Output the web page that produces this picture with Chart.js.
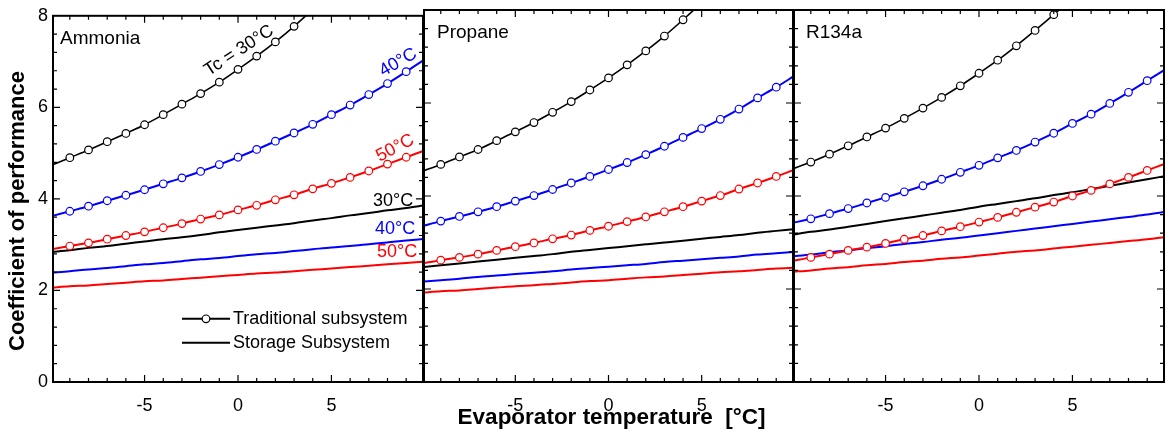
<!DOCTYPE html>
<html>
<head>
<meta charset="utf-8">
<script src="https://cdn.jsdelivr.net/npm/chart.js@4.4.1/dist/chart.umd.min.js"></script>
<style>
  body { margin: 0; background: #fff; width: 1166px; height: 433px; overflow: hidden; position: relative; }
  canvas { position: absolute; top: 0; }
</style>
</head>
<body>
<canvas id="c1" width="433" height="433" style="left:0px"></canvas>
<canvas id="c2" width="389" height="433" style="left:414px"></canvas>
<canvas id="c3" width="382" height="433" style="left:784px"></canvas>
<script>
// evaporator temperature, °C
const temps = [-10, -9, -8, -7, -6, -5, -4, -3, -2, -1, 0, 1, 2, 3, 4, 5, 6, 7, 8, 9, 10];
const xTickValues = [-5, 0, 5];
const yTickValues = [0, 2, 4, 6, 8];
const condLabels = ['30°C', '40°C', '50°C'];

// Ammonia - traditional (markers) and storage subsystem, Tc = 30 / 40 / 50
const ammoniaTrad30 = [4.73, 4.90, 5.07, 5.25, 5.43, 5.62, 5.84, 6.07, 6.30, 6.55, 6.83, 7.12, 7.43, 7.77, 8.14, 8.52, null, null, null, null, null];
const ammoniaTrad40 = [3.62, 3.73, 3.84, 3.96, 4.08, 4.20, 4.33, 4.46, 4.60, 4.75, 4.91, 5.08, 5.26, 5.44, 5.63, 5.84, 6.05, 6.28, 6.52, 6.78, 7.05];
const ammoniaTrad50 = [2.90, 2.97, 3.04, 3.12, 3.20, 3.28, 3.37, 3.46, 3.56, 3.65, 3.76, 3.86, 3.98, 4.09, 4.22, 4.34, 4.47, 4.61, 4.76, 4.91, 5.06];
const ammoniaStor30 = [2.84, 2.88, 2.93, 2.97, 3.02, 3.07, 3.12, 3.16, 3.21, 3.27, 3.32, 3.37, 3.42, 3.47, 3.53, 3.58, 3.64, 3.69, 3.75, 3.80, 3.86];
const ammoniaStor40 = [2.39, 2.42, 2.46, 2.49, 2.53, 2.57, 2.60, 2.64, 2.68, 2.71, 2.75, 2.79, 2.82, 2.86, 2.90, 2.94, 2.97, 3.01, 3.05, 3.09, 3.13];
const ammoniaStor50 = [2.06, 2.09, 2.11, 2.14, 2.17, 2.20, 2.22, 2.25, 2.28, 2.31, 2.34, 2.37, 2.39, 2.42, 2.45, 2.48, 2.51, 2.54, 2.57, 2.60, 2.63];

// Propane
const propaneTrad30 = [4.53, 4.68, 4.84, 5.00, 5.19, 5.38, 5.58, 5.80, 6.03, 6.28, 6.54, 6.82, 7.12, 7.44, 7.79, 8.16, 8.55, null, null, null, null];
const propaneTrad40 = [3.35, 3.46, 3.56, 3.66, 3.77, 3.89, 4.01, 4.14, 4.28, 4.42, 4.57, 4.72, 4.89, 5.07, 5.26, 5.45, 5.65, 5.87, 6.11, 6.34, 6.59];
const propaneTrad50 = [2.55, 2.62, 2.68, 2.75, 2.83, 2.91, 2.99, 3.08, 3.16, 3.26, 3.35, 3.45, 3.55, 3.66, 3.77, 3.89, 4.01, 4.15, 4.28, 4.42, 4.57];
const propaneStor30 = [2.47, 2.51, 2.55, 2.59, 2.63, 2.67, 2.71, 2.75, 2.80, 2.84, 2.88, 2.92, 2.96, 3.00, 3.04, 3.08, 3.12, 3.16, 3.21, 3.25, 3.29];
const propaneStor40 = [2.16, 2.19, 2.22, 2.26, 2.29, 2.32, 2.35, 2.38, 2.42, 2.45, 2.48, 2.51, 2.54, 2.58, 2.61, 2.64, 2.67, 2.70, 2.74, 2.77, 2.80];
const propaneStor50 = [1.92, 1.95, 1.97, 2.00, 2.03, 2.06, 2.08, 2.11, 2.14, 2.17, 2.19, 2.22, 2.25, 2.27, 2.30, 2.33, 2.36, 2.38, 2.41, 2.44, 2.46];

// R134a
const r134aTrad30 = [4.58, 4.73, 4.90, 5.08, 5.27, 5.46, 5.67, 5.89, 6.12, 6.37, 6.64, 6.92, 7.23, 7.56, 7.90, 8.26, 8.64, null, null, null, null];
const r134aTrad40 = [3.42, 3.51, 3.62, 3.73, 3.85, 3.97, 4.09, 4.22, 4.36, 4.51, 4.66, 4.82, 4.98, 5.16, 5.35, 5.56, 5.76, 5.99, 6.23, 6.48, 6.73];
const r134aTrad50 = [2.60, 2.68, 2.75, 2.83, 2.90, 2.98, 3.07, 3.15, 3.25, 3.34, 3.44, 3.54, 3.65, 3.76, 3.87, 4.00, 4.12, 4.26, 4.40, 4.55, 4.70];
const r134aStor30 = [3.17, 3.23, 3.28, 3.34, 3.40, 3.46, 3.52, 3.58, 3.64, 3.70, 3.77, 3.83, 3.89, 3.95, 4.02, 4.08, 4.15, 4.22, 4.29, 4.36, 4.43];
const r134aStor40 = [2.70, 2.74, 2.79, 2.83, 2.88, 2.92, 2.97, 3.01, 3.06, 3.10, 3.15, 3.20, 3.25, 3.30, 3.35, 3.40, 3.45, 3.50, 3.55, 3.60, 3.66];
const r134aStor50 = [2.37, 2.40, 2.44, 2.47, 2.51, 2.54, 2.58, 2.61, 2.65, 2.68, 2.72, 2.76, 2.80, 2.83, 2.87, 2.91, 2.95, 2.99, 3.03, 3.07, 3.12];

const colors = ['#000000', '#0000ff', '#ff0000'];
const FONT = '"Liberation Sans", Arial, Helvetica, sans-serif';
Chart.defaults.font.family = FONT;
Chart.defaults.color = '#000';

function toPoints(vals) {
  return vals.map((v, k) => ({ x: temps[k], y: v }));
}

function buildDatasets(trad, stor) {
  const sets = [];
  trad.forEach((vals, i) => sets.push({
    data: toPoints(vals),
    borderColor: colors[i],
    borderWidth: i === 0 ? 1.6 : 2,
    pointRadius: vals.map((v, k) => (v === null || v > 8 || Math.abs(temps[k]) > 9) ? 0 : 3.8),
    pointBackgroundColor: '#fff',
    pointBorderColor: colors[i],
    pointBorderWidth: 1.2,
    cubicInterpolationMode: 'monotone'
  }));
  stor.forEach((vals, i) => sets.push({
    data: toPoints(vals),
    borderColor: colors[i],
    borderWidth: 2,
    pointRadius: 0,
    cubicInterpolationMode: 'monotone'
  }));
  return sets;
}

// frame, inward ticks on all sides, and the panel texts
const decor = {
  id: 'decor',
  afterDatasetsDraw(chart, args, o) {
    const { ctx, chartArea: a, scales: { x, y } } = chart;
    ctx.save();
    ctx.strokeStyle = '#000';
    ctx.lineWidth = 1.2;
    ctx.beginPath();
    for (let v = -9; v <= 9; v++) {
      const px = x.getPixelForValue(v);
      const len = v % 5 === 0 ? 7 : 4;
      ctx.moveTo(px, a.bottom); ctx.lineTo(px, a.bottom - len);
      ctx.moveTo(px, a.top); ctx.lineTo(px, a.top + len);
    }
    for (let i = 1; i < 20; i++) {
      const py = y.getPixelForValue(i * 0.4);
      const len = i % 5 === 0 ? 7 : 4;
      ctx.moveTo(a.left, py); ctx.lineTo(a.left + len, py);
      ctx.moveTo(a.right, py); ctx.lineTo(a.right - len, py);
    }
    ctx.stroke();
    ctx.lineWidth = 2;
    ctx.strokeRect(a.left, a.top, a.width, a.height);

    ctx.fillStyle = '#000';
    ctx.font = '19px ' + FONT;
    ctx.textBaseline = 'alphabetic';
    ctx.fillText(o.label, a.left + o.labelDx, a.top + 28);

    (o.notes || []).forEach(n => {
      ctx.save();
      ctx.translate(x.getPixelForValue(n.x), y.getPixelForValue(n.y));
      ctx.rotate(n.rot * Math.PI / 180);
      ctx.fillStyle = n.color;
      ctx.font = '18px ' + FONT;
      ctx.textAlign = 'center';
      ctx.textBaseline = 'middle';
      ctx.fillText(n.text, 0, 0);
      ctx.restore();
    });

    if (o.legend) {
      const lx = a.left + 129, ly1 = a.top + 303, ly2 = a.top + 327;
      ctx.lineWidth = 2;
      ctx.beginPath();
      ctx.moveTo(lx, ly1); ctx.lineTo(lx + 48, ly1);
      ctx.moveTo(lx, ly2); ctx.lineTo(lx + 48, ly2);
      ctx.stroke();
      ctx.beginPath();
      ctx.arc(lx + 24, ly1, 3.8, 0, Math.PI * 2);
      ctx.fillStyle = '#fff';
      ctx.fill();
      ctx.lineWidth = 1.2;
      ctx.stroke();
      ctx.fillStyle = '#000';
      ctx.font = '18px ' + FONT;
      ctx.textBaseline = 'middle';
      ctx.fillText('Traditional subsystem', lx + 51, ly1);
      ctx.fillText('Storage Subsystem', lx + 51, ly2);
    }
    if (o.yTitle) {
      ctx.save();
      ctx.translate(18, 211);
      ctx.rotate(-Math.PI / 2);
      ctx.font = 'bold 22px ' + FONT;
      ctx.textAlign = 'center';
      ctx.textBaseline = 'middle';
      ctx.fillText(o.yTitle, 0, 0);
      ctx.restore();
    }
    if (o.xTitle) {
      ctx.font = 'bold 22.5px ' + FONT;
      ctx.textAlign = 'center';
      ctx.textBaseline = 'alphabetic';
      ctx.fillText(o.xTitle, (a.left + a.right) / 2 + 3, 424);
    }
    ctx.restore();
  }
};

function makePanel(id, trad, stor, padding, showY, decorOpts) {
  new Chart(document.getElementById(id), {
    type: 'line',
    data: { datasets: buildDatasets(trad, stor) },
    options: {
      responsive: false,
      animation: false,
      events: [],
      layout: { padding: padding },
      plugins: { legend: { display: false }, tooltip: { enabled: false }, decor: decorOpts },
      scales: {
        x: {
          type: 'linear', min: -9.9, max: 9.9,
          afterBuildTicks: s => { s.ticks = xTickValues.map(v => ({ value: v })); },
          afterFit: s => { s.height = 51; },
          grid: { display: false, drawTicks: false },
          border: { display: false },
          ticks: { font: { size: 18 }, padding: 13, maxRotation: 0, callback: v => String(v) }
        },
        y: {
          display: showY, min: 0, max: 8,
          afterBuildTicks: s => { s.ticks = yTickValues.map(v => ({ value: v })); },
          afterFit: s => { s.width = showY ? 53 : 0; },
          grid: { display: false, drawTicks: false },
          border: { display: false },
          ticks: { font: { size: 18 }, padding: 5, callback: v => String(v) }
        }
      }
    },
    plugins: [decor]
  });
}

makePanel('c1', [ammoniaTrad30, ammoniaTrad40, ammoniaTrad50], [ammoniaStor30, ammoniaStor40, ammoniaStor50],
  { left: 0, right: 10, top: 10, bottom: 0 }, true, {
    label: 'Ammonia', labelDx: 7, legend: true, yTitle: 'Coefficient of performance',
    notes: [
      { text: 'Tc = ' + condLabels[0], x: 0.05, y: 7.24, rot: -33, color: colors[0] },
      { text: condLabels[1], x: 8.57, y: 6.98, rot: -30, color: colors[1] },
      { text: condLabels[2], x: 8.41, y: 5.11, rot: -28, color: colors[2] },
      { text: condLabels[0], x: 8.30, y: 3.96, rot: 0, color: colors[0] },
      { text: condLabels[1], x: 8.41, y: 3.35, rot: 0, color: colors[1] },
      { text: condLabels[2], x: 8.52, y: 2.83, rot: 0, color: colors[2] }
    ]
  });
makePanel('c2', [propaneTrad30, propaneTrad40, propaneTrad50], [propaneStor30, propaneStor40, propaneStor50],
  { left: 10, right: 10, top: 10, bottom: 0 }, false, {
    label: 'Propane', labelDx: 13, xTitle: 'Evaporator temperature  [°C]'
  });
makePanel('c3', [r134aTrad30, r134aTrad40, r134aTrad50], [r134aStor30, r134aStor40, r134aStor50],
  { left: 10, right: 2, top: 10, bottom: 0 }, false, {
    label: 'R134a', labelDx: 12
  });
</script>
</body>
</html>
